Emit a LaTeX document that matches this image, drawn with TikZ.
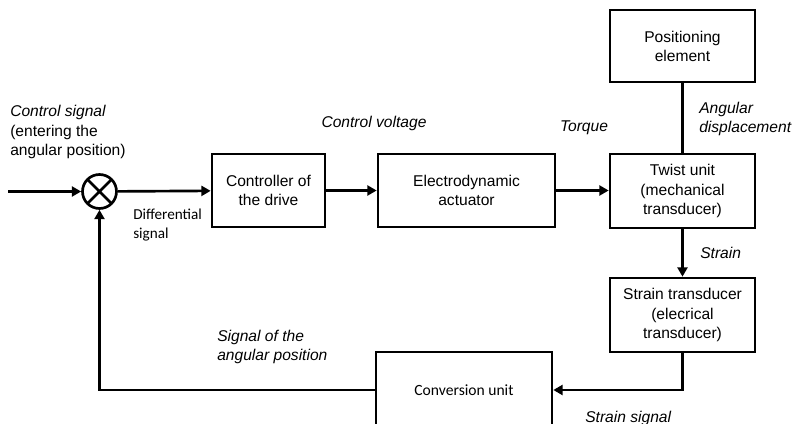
\documentclass[tikz,border=0pt]{standalone}
\usepackage{fontspec}
\setmainfont{Liberation Sans}
\newfontfamily\calfont{Carlito}
\usetikzlibrary{arrows.meta}
\begin{document}
\begin{tikzpicture}[x=0.75pt,y=-0.75pt,
  block/.style={draw,line width=2pt,align=center,inner sep=0pt,font=\fontsize{11.7}{14.3}\selectfont},
  junction/.style={draw,circle,line width=2pt,minimum size=25.5pt,inner sep=0pt,
    path picture={\draw[line width=2pt] (path picture bounding box.north west) -- (path picture bounding box.south east)
      (path picture bounding box.south west) -- (path picture bounding box.north east);}},
  lbl/.style={align=left,inner sep=0pt,font=\fontsize{11.7}{14.3}\selectfont\itshape},
  callbl/.style={align=left,inner sep=0pt,font=\fontsize{11.4}{14.3}\calfont},
  arr/.style={line width=2pt,-{Triangle[length=7pt,width=7.5pt]}},
  link/.style={line width=2pt}]
\useasboundingbox (0,0) rectangle (794,424);
\clip (0,0) rectangle (794,424);
% blocks
\node[junction] (sum) at (99.5,191.5) {};
\node[block,minimum width=84.75pt,minimum height=54.75pt] (ctrl) at (268.5,190.5) {Controller of\\the drive};
\node[block,minimum width=132.75pt,minimum height=54.75pt] (act) at (466.5,190.5) {Electrodynamic\\actuator};
\node[block,minimum width=108.75pt,minimum height=54pt] (pos) at (682.5,46) {Positioning\\element};
\node[block,minimum width=108.75pt,minimum height=55.5pt] (twist) at (682.5,191) {Twist unit\\(mechanical\\transducer)};
\node[block,minimum width=108.75pt,minimum height=55.5pt] (strain) at (682.5,315) {Strain transducer\\(elecrical\\transducer)};
\node[block,minimum width=132pt,minimum height=57pt,font=\fontsize{11.7}{14.3}\calfont] (conv) at (464,390) {Conversion unit};
\coordinate (in) at (8,191.5);
% connectors
\draw[arr] (in) -- (sum);
\draw[arr] (sum) -- (ctrl);
\draw[arr] (ctrl) -- (act);
\draw[arr] (act) -- (act -| twist.west);
\draw[link] (pos) -- (twist);
\draw[arr] (twist) -- (strain);
\draw[arr] (strain.south) |- (conv.east);
\draw[arr] (conv.west) -| (sum.south);
% labels
\node[lbl,anchor=west] (lcs) at (10,132) {Control signal\\\upshape(entering the\\\upshape angular position)};
\node[callbl,anchor=west] (ldiff) at (133,225) {Differential\\signal};
\node[lbl] (lcv) at (374,123) {Control voltage};
\node[lbl] (ltq) at (584,128) {Torque};
\node[lbl,anchor=west] (lang) at (699,119) {Angular\\displacement};
\node[lbl,anchor=west] (lstr) at (700,253) {Strain};
\node[lbl,anchor=west] (lsig) at (217,347) {Signal of the\\angular position};
\node[lbl,anchor=west] (lss) at (585,418) {Strain signal};
\end{tikzpicture}
\end{document}
